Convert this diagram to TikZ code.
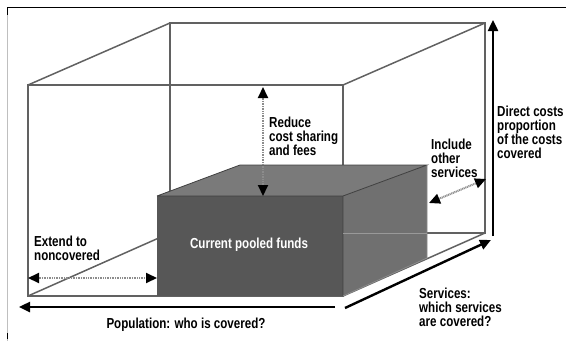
\documentclass[tikz,border=0pt]{standalone}
\usepackage{fontspec}
\setmainfont{Liberation Sans}[FakeStretch=0.8]
\usetikzlibrary{arrows.meta}
\newcommand\mytightlines{\lineskiplimit=-8pt\relax\lineskip=0pt\relax}
\begin{document}
\begin{tikzpicture}[x=1pt,y=-1pt,
  wire/.style={draw=black!62,line width=1.5pt},
  bigarrow/.style={draw=black,line width=2.4pt,-{Triangle[length=11pt,width=10pt]}},
  dotarrow/.style={draw=black!45,line width=2pt,dash pattern=on 1pt off 0.7pt,
     {Triangle[length=11pt,width=10pt,color=black,fill=black]}-{Triangle[length=11pt,width=10pt,color=black,fill=black]}},
  txt/.style={font=\bfseries\fontsize{14.5}{13.8}\selectfont\mytightlines},
  lbl/.style={txt,align=left,anchor=north west,inner sep=0pt}]
\useasboundingbox (0,0) rectangle (566,341);
% frame
\draw[black!25,line width=0.8pt] (7,7) -- (7,341);
\draw[black,line width=1pt] (7,7) -- (566,7);
\draw[black,line width=1pt] (7,7) -- (7,15);
\draw[black,line width=1pt] (7,333) -- (7,339);
% big box corners
\coordinate (A) at (28,85);  \coordinate (B) at (343,85);
\coordinate (C) at (343,296);\coordinate (D) at (28,296);
\coordinate (E) at (170,23); \coordinate (F) at (485,23);
\coordinate (G) at (485,233);\coordinate (H) at (170,233);
\draw[wire] (A) -- (B) -- (C) -- (D) -- cycle;
\draw[wire] (E) -- (F) -- (G) -- (H) -- cycle;
\draw[wire] (A) -- (E) (B) -- (F) (C) -- (G) (D) -- (H);
% pooled box
\coordinate (P1) at (157,196); \coordinate (P2) at (343,196);
\coordinate (P3) at (343,296); \coordinate (P4) at (157,296);
\coordinate (P5) at (427,165); \coordinate (P6) at (240,165);
\coordinate (P7) at (427,258);
\fill[black!52] (P1) -- (P6) -- (P5) -- (P2) -- cycle;
\fill[black!56] (P2) -- (P5) -- (P7) -- (P3) -- cycle;
\fill[black!66] (P1) -- (P2) -- (P3) -- (P4) -- cycle;
\draw[black!75,line width=0.8pt] (P1) -- (P6) -- (P5) -- (P2) (P1) -- (P2) (P2) -- (P3);
\draw[black!45,line width=0.8pt] (P3) -- (P7) -- (P5);
\draw[black!40,line width=0.8pt] (343,233) -- (427,233);
\node[txt,text=white,inner sep=0pt] (pool) at (249,245) {Current pooled funds};
% axis arrows
\coordinate (popS) at (335,307); \coordinate (popE) at (19,307);
\draw[bigarrow] (popS) -- (popE);
\coordinate (serS) at (345,308); \coordinate (serE) at (491,240);
\draw[bigarrow] (serS) -- (serE);
\coordinate (dirS) at (493,236); \coordinate (dirE) at (493,20);
\draw[bigarrow] (dirS) -- (dirE);
% dotted arrows
\coordinate (r1) at (263,87); \coordinate (r2) at (263,196);
\draw[dotarrow] (r1) -- (r2);
\coordinate (e1) at (28,278); \coordinate (e2) at (157,278);
\draw[dotarrow] (e1) -- (e2);
\coordinate (i1) at (429,203); \coordinate (i2) at (486,179);
\draw[dotarrow] (i1) -- (i2);
% labels
\node[lbl] (reduce) at (269,117) {Reduce\\cost sharing\\and fees};
\node[lbl] (direct) at (497,106) {Direct costs\\proportion\\of the costs\\covered};
\node[lbl] (include) at (431,139) {Include\\other\\services};
\node[lbl] (extend) at (34,236) {Extend to\\noncovered};
\node[lbl] (services) at (419,288) {Services:\\which services\\are covered?};
\node[txt,inner sep=0pt,anchor=north] (popl) at (186,318) {Population: who is covered?};
\end{tikzpicture}
\end{document}
